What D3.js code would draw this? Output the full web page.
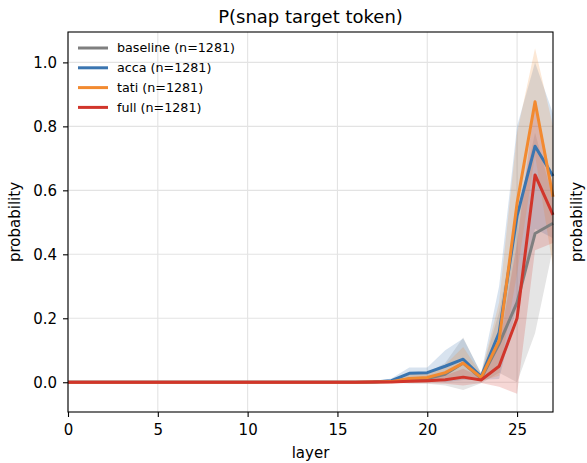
<!DOCTYPE html>
<html>
<head>
<meta charset="utf-8">
<script src="https://cdn.jsdelivr.net/npm/d3@7"></script>
<style>
    body { margin: 0; background: #fff; }
    #my_dataviz { width: 587px; height: 463px; }
    text { font-family: "DejaVu Sans", sans-serif; fill: #000; }
</style>
</head>
<body>
<div id="my_dataviz"></div>
<script>
// layers on the x axis
var layers = [0, 1, 2, 3, 4, 5, 6, 7, 8, 9, 10, 11, 12, 13, 14, 15, 16, 17, 18, 19, 20, 21, 22, 23, 24, 25, 26, 27];

var xTicks = [0, 5, 10, 15, 20, 25];
var yTicks = [0.0, 0.2, 0.4, 0.6, 0.8, 1.0];

var seriesNames = ["baseline (n=1281)", "acca (n=1281)", "tati (n=1281)", "full (n=1281)"];

// mean and band per layer
var baselineMean = [0, 0, 0, 0, 0, 0, 0, 0, 0, 0, 0, 0, 0, 0, 0, 0, 0, 0.001, 0.002, 0.010, 0.012, 0.025, 0.060, 0.012, 0.120, 0.250, 0.465, 0.497];
var baselineLo   = [0, 0, 0, 0, 0, 0, 0, 0, 0, 0, 0, 0, 0, 0, 0, 0, 0, 0, 0, -0.005, -0.005, -0.010, -0.024, -0.003, 0.030, 0.000, 0.153, 0.420];
var baselineHi   = [0, 0, 0, 0, 0, 0, 0, 0, 0, 0, 0, 0, 0, 0, 0, 0, 0, 0.002, 0.005, 0.025, 0.030, 0.060, 0.140, 0.027, 0.220, 0.520, 0.780, 0.575];

var accaMean = [0, 0, 0, 0, 0, 0, 0, 0, 0, 0, 0, 0, 0, 0, 0, 0, 0, 0.001, 0.005, 0.028, 0.030, 0.050, 0.072, 0.018, 0.155, 0.520, 0.738, 0.645];
var accaLo   = [0, 0, 0, 0, 0, 0, 0, 0, 0, 0, 0, 0, 0, 0, 0, 0, 0, 0, 0, 0.010, 0.014, 0.000, 0.007, 0.008, 0.010, 0.240, 0.480, 0.450];
var accaHi   = [0, 0, 0, 0, 0, 0, 0, 0, 0, 0, 0, 0, 0, 0, 0, 0, 0, 0.002, 0.012, 0.046, 0.046, 0.100, 0.137, 0.028, 0.300, 0.800, 1.000, 0.840];

var tatiMean = [0, 0, 0, 0, 0, 0, 0, 0, 0, 0, 0, 0, 0, 0, 0, 0, 0, 0.001, 0.002, 0.012, 0.015, 0.030, 0.060, 0.015, 0.130, 0.560, 0.877, 0.580];
var tatiLo   = [0, 0, 0, 0, 0, 0, 0, 0, 0, 0, 0, 0, 0, 0, 0, 0, 0, 0, 0, 0.000, 0.000, 0.005, 0.010, 0.005, 0.020, 0.340, 0.710, 0.360];
var tatiHi   = [0, 0, 0, 0, 0, 0, 0, 0, 0, 0, 0, 0, 0, 0, 0, 0, 0, 0.002, 0.006, 0.025, 0.030, 0.055, 0.110, 0.025, 0.250, 0.780, 1.044, 0.800];

var fullMean = [0, 0, 0, 0, 0, 0, 0, 0, 0, 0, 0, 0, 0, 0, 0, 0, 0, 0.001, 0.001, 0.003, 0.005, 0.008, 0.016, 0.007, 0.050, 0.200, 0.648, 0.523];
var fullLo   = [0, 0, 0, 0, 0, 0, 0, 0, 0, 0, 0, 0, 0, 0, 0, 0, 0, 0, 0, -0.002, -0.003, -0.005, -0.010, -0.002, -0.014, -0.036, 0.413, 0.435];
var fullHi   = [0, 0, 0, 0, 0, 0, 0, 0, 0, 0, 0, 0, 0, 0, 0, 0, 0, 0.002, 0.003, 0.008, 0.013, 0.021, 0.042, 0.016, 0.114, 0.436, 0.883, 0.610];

var colors = ["#7f7f7f", "#3a75b0", "#f28a30", "#d1352b"];

function renderGraph() {
    var margin = { top: 32, right: 34, bottom: 51, left: 68 },
        width = 587 - margin.left - margin.right,
        height = 463 - margin.top - margin.bottom;

    var root = d3.select("#my_dataviz")
        .append("svg")
        .attr("width", 587)
        .attr("height", 463);

    var svg = root.append("g")
        .attr("transform", "translate(" + margin.left + "," + margin.top + ")");

    var x = d3.scaleLinear().domain([0, 27]).range([0, width]);
    var y = d3.scaleLinear().domain([-0.093, 1.095]).range([height, 0]);

    // grid
    svg.append("g").selectAll("line")
        .data(xTicks)
        .enter().append("line")
        .attr("x1", function (d) { return x(d); })
        .attr("x2", function (d) { return x(d); })
        .attr("y1", 0).attr("y2", height)
        .attr("stroke", "#e3e3e3").attr("stroke-width", 1.1);
    svg.append("g").selectAll("line")
        .data(yTicks)
        .enter().append("line")
        .attr("y1", function (d) { return y(d); })
        .attr("y2", function (d) { return y(d); })
        .attr("x1", 0).attr("x2", width)
        .attr("stroke", "#e3e3e3").attr("stroke-width", 1.1);

    var series = [
        { name: seriesNames[0], mean: baselineMean, lo: baselineLo, hi: baselineHi, color: colors[0] },
        { name: seriesNames[1], mean: accaMean, lo: accaLo, hi: accaHi, color: colors[1] },
        { name: seriesNames[2], mean: tatiMean, lo: tatiLo, hi: tatiHi, color: colors[2] },
        { name: seriesNames[3], mean: fullMean, lo: fullLo, hi: fullHi, color: colors[3] }
    ];
    series.forEach(function (s) {
        s.rows = layers.map(function (l, i) {
            return { layer: l, mean: s.mean[i], lo: s.lo[i], hi: s.hi[i] };
        });
    });

    var area = d3.area()
        .x(function (d) { return x(d.layer); })
        .y0(function (d) { return y(d.lo); })
        .y1(function (d) { return y(d.hi); });
    var line = d3.line()
        .x(function (d) { return x(d.layer); })
        .y(function (d) { return y(d.mean); });

    // bands first, then the lines on top
    svg.append("g").selectAll("path")
        .data(series)
        .enter().append("path")
        .attr("d", function (s) { return area(s.rows); })
        .attr("fill", function (s) { return s.color; })
        .attr("fill-opacity", 0.2);
    svg.append("g").selectAll("path")
        .data(series)
        .enter().append("path")
        .attr("d", function (s) { return line(s.rows); })
        .attr("fill", "none")
        .attr("stroke", function (s) { return s.color; })
        .attr("stroke-width", 3)
        .attr("stroke-linejoin", "round");

    // axes
    var xAxis = svg.append("g")
        .attr("transform", "translate(0," + height + ")")
        .call(d3.axisBottom(x).tickValues(xTicks).tickFormat(d3.format("d")).tickSize(5).tickPadding(7));
    var yAxis = svg.append("g")
        .call(d3.axisLeft(y).tickValues(yTicks).tickFormat(d3.format(".1f")).tickSize(5).tickPadding(6));
    [xAxis, yAxis].forEach(function (a) {
        a.select(".domain").remove();
        a.selectAll("line").attr("stroke", "#000").attr("stroke-width", 1.1);
        a.selectAll("text").style("font-size", "15px").attr("fill", "#000");
    });

    // frame
    svg.append("rect")
        .attr("width", width).attr("height", height)
        .attr("fill", "none").attr("stroke", "#000").attr("stroke-width", 1.1);

    // legend
    var legend = svg.append("g").attr("transform", "translate(10,16)");
    series.forEach(function (s, i) {
        var g = legend.append("g").attr("transform", "translate(0," + (i * 19.8) + ")");
        g.append("line")
            .attr("x1", 0).attr("x2", 30)
            .attr("stroke", s.color).attr("stroke-width", 3);
        g.append("text")
            .attr("x", 39).attr("dy", "0.35em")
            .style("font-size", "12.7px")
            .text(s.name);
    });

    // title
    root.append("text")
        .attr("x", margin.left + width / 2).attr("y", 23)
        .attr("text-anchor", "middle")
        .style("font-size", "18px")
        .text("P(snap target token)");

    // X axis label
    root.append("text")
        .attr("x", margin.left + width / 2).attr("y", 458)
        .attr("text-anchor", "middle")
        .style("font-size", "15px")
        .text("layer");

    // Y axis label
    root.append("text")
        .attr("text-anchor", "middle")
        .attr("transform", "translate(20," + (margin.top + height / 2) + ")rotate(-90)")
        .style("font-size", "15px")
        .text("probability");

    // label of the neighbouring panel at the right edge
    root.append("text")
        .attr("text-anchor", "middle")
        .attr("transform", "translate(582," + (margin.top + height / 2) + ")rotate(-90)")
        .style("font-size", "15px")
        .text("probability");
}

renderGraph();
</script>
</body>
</html>
